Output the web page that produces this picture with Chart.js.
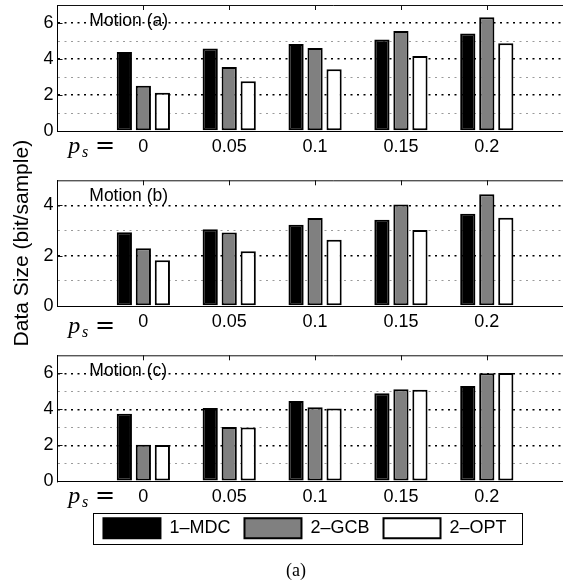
<!DOCTYPE html>
<html>
<head>
<meta charset="utf-8">
<script src="https://cdn.jsdelivr.net/npm/chart.js@4.4.1/dist/chart.umd.min.js"></script>
<style>
  html, body { margin: 0; padding: 0; background: #fff; overflow: hidden; }
  #fig { position: relative; width: 563px; height: 588px; overflow: hidden; }
  #fig canvas { position: absolute; left: 0; }
  #caption {
    position: absolute; left: 246px; top: 560px; width: 100px;
    text-align: center; font: 18px "Liberation Serif", "Times New Roman", serif; line-height: 20px; color: #000;
  }
</style>
</head>
<body>
<div id="fig">
  <canvas id="panelA" width="610" height="170" style="top:0px"></canvas>
  <canvas id="panelB" width="610" height="250" style="top:120px"></canvas>
  <canvas id="panelC" width="610" height="248" style="top:340px"></canvas>
  <div id="caption">(a)</div>
</div>
<script>
// Packet-loss probabilities on the horizontal axis
const psLabels = ['0', '0.05', '0.1', '0.15', '0.2'];
// Coding schemes
const seriesNames = ['1\u2013MDC', '2\u2013GCB', '2\u2013OPT'];

// Data size (bit/sample), Motion (a)
const motionA_MDC = [4.39, 4.59, 4.83, 5.09, 5.42];
const motionA_GCB = [2.52, 3.56, 4.61, 5.56, 6.32];
const motionA_OPT = [2.13, 2.76, 3.43, 4.17, 4.87];
// Data size (bit/sample), Motion (b)
const motionB_MDC = [2.93, 3.05, 3.23, 3.43, 3.67];
const motionB_GCB = [2.30, 2.92, 3.50, 4.04, 4.45];
const motionB_OPT = [1.82, 2.18, 2.64, 3.02, 3.51];
// Data size (bit/sample), Motion (c)
const motionC_MDC = [3.75, 4.07, 4.46, 4.89, 5.30];
const motionC_GCB = [2.03, 3.01, 4.11, 5.11, 6.00];
const motionC_OPT = [2.01, 2.99, 4.05, 5.09, 6.02];

const SANS = '"Liberation Sans", Arial, Helvetica, sans-serif';
Chart.defaults.font.family = SANS;
Chart.defaults.color = '#000';

const fills = ['#000000', '#808080', '#ffffff'];
// The axes run on past the right edge of the figure
const X_MAX = 6.435;

// Fixed axis sizes so the three panels line up exactly
const fixWidth = w => s => { s.width = w; s.paddingTop = 0; s.paddingBottom = 0; };
const fixHeight = h => s => { s.height = h; s.paddingLeft = 0; s.paddingRight = 0; };

// Solid top edge of each panel with inward ticks, plus inward ticks on the left edge
const frameTicks = {
  id: 'frameTicks',
  beforeDatasetsDraw(chart) {
    const { ctx, chartArea: a, scales: { x, y } } = chart;
    ctx.save();
    ctx.strokeStyle = '#111';
    ctx.lineWidth = 1;
    ctx.beginPath();
    ctx.moveTo(a.left, a.top + 0.5);
    ctx.lineTo(a.right, a.top + 0.5);
    psLabels.forEach((_, i) => {
      const px = Math.round(x.getPixelForValue(i + 1)) + 0.5;
      ctx.moveTo(px, a.top);
      ctx.lineTo(px, a.top + 5);
    });
    y.ticks.forEach(t => {
      if (t.value > 0 && t.value < y.max && t.value % 2 === 0) {
        const py = Math.round(y.getPixelForValue(t.value)) + 0.5;
        ctx.moveTo(a.left, py);
        ctx.lineTo(a.left + 5, py);
      }
    });
    ctx.stroke();
    ctx.restore();
  }
};

// Panel name inside the plot and the "p_s =" row label
const panelText = {
  id: 'panelText',
  afterDatasetsDraw(chart, args, o) {
    const { ctx, chartArea: a } = chart;
    ctx.save();
    ctx.fillStyle = '#000';
    ctx.textAlign = 'left';
    ctx.textBaseline = 'middle';
    ctx.font = '17.5px ' + SANS;
    ctx.fillText(o.motion, a.left + 31.8, a.top + 16);
    const base = a.bottom + o.psDrop;
    ctx.textBaseline = 'alphabetic';
    ctx.font = 'italic 24px "Liberation Serif", "Times New Roman", serif';
    ctx.fillText('p', a.left + 10.8, base);
    ctx.font = 'italic 16px "Liberation Serif", "Times New Roman", serif';
    ctx.fillText('s', a.left + 24.5, base + 4);
    ctx.font = '24px "DejaVu Serif", serif';
    ctx.fillText('=', a.left + 37.5, base);
    ctx.restore();
  }
};

// Rectangle around the legend entries
const legendFrame = {
  id: 'legendFrame',
  afterDraw(chart) {
    const lg = chart.legend;
    if (!lg || !lg.options.display || !lg.legendHitBoxes.length) return;
    const hb = lg.legendHitBoxes;
    const first = hb[0], last = hb[hb.length - 1];
    const x1 = Math.round(first.left - 10) + 0.5;
    const x2 = Math.round(last.left + last.width + 15) + 0.5;
    const y1 = Math.round(first.top - 5) + 0.5;
    const y2 = Math.round(first.top + 26) + 0.5;
    const ctx = chart.ctx;
    ctx.save();
    ctx.strokeStyle = '#000';
    ctx.lineWidth = 1;
    ctx.strokeRect(x1, y1, x2 - x1, y2 - y1);
    ctx.restore();
  }
};

function makePanel(id, cfg) {
  const values = cfg.values;
  return new Chart(document.getElementById(id), {
    type: 'bar',
    data: {
      datasets: seriesNames.map((name, k) => ({
        label: name,
        data: values[k].map((v, i) => ({ x: i + 1, y: v })),
        backgroundColor: fills[k],
        borderColor: '#000',
        borderWidth: 2,
        borderSkipped: false,
        categoryPercentage: 0.664,
        barPercentage: 0.8
      }))
    },
    options: {
      responsive: false,
      animation: false,
      events: [],
      layout: { autoPadding: false, padding: cfg.padding },
      scales: {
        x: {
          type: 'linear',
          min: 0,
          max: X_MAX,
          offset: false,
          afterFit: fixHeight(cfg.xAxisHeight),
          grid: { display: false, drawTicks: false, offset: false },
          border: { display: true, color: '#000', width: 1 },
          ticks: {
            stepSize: 1,
            includeBounds: false,
            autoSkip: false,
            maxRotation: 0,
            minRotation: 0,
            padding: 5,
            font: { size: 18 },
            callback: v => {
              const i = Math.round(v);
              return (i >= 1 && i <= psLabels.length) ? psLabels[i - 1] : '';
            }
          }
        },
        y: {
          min: 0,
          max: cfg.yMax,
          afterFit: fixWidth(57.5),
          grid: {
            drawTicks: false,
            color: c => {
              const v = c.tick.value;
              if (v === 0 || v === cfg.yMax) return 'rgba(0,0,0,0)';
              return v % 2 === 0 ? '#000' : '#9a9a9a';
            },
            lineWidth: c => (c.tick.value % 2 === 0 ? 1.4 : 1)
          },
          border: { display: true, color: '#000', width: 1, dash: [2, 4.5] },
          ticks: {
            stepSize: 1,
            autoSkip: false,
            padding: 4,
            font: { size: 18 },
            callback: v => (v % 2 === 0 ? String(v) : '')
          },
          title: cfg.yTitle ? {
            display: true,
            text: cfg.yTitle,
            font: { size: 21 },
            padding: { top: 9.4, bottom: 0 }
          } : { display: false }
        }
      },
      plugins: {
        legend: cfg.legend ? {
          display: true,
          position: 'bottom',
          labels: {
            boxWidth: 57,
            boxHeight: 20,
            padding: 14,
            color: '#000',
            font: { size: 18 }
          }
        } : { display: false },
        tooltip: { enabled: false },
        title: { display: false },
        panelText: { motion: cfg.motion, psDrop: cfg.psDrop }
      }
    },
    plugins: cfg.legend ? [frameTicks, panelText, legendFrame] : [frameTicks, panelText]
  });
}

makePanel('panelA', {
  values: [motionA_MDC, motionA_GCB, motionA_OPT],
  yMax: 7,
  motion: 'Motion (a)',
  psDrop: 22,
  padding: { left: 0, top: 5, right: 0, bottom: 0 },
  xAxisHeight: 39
});

makePanel('panelB', {
  values: [motionB_MDC, motionB_GCB, motionB_OPT],
  yMax: 5,
  motion: 'Motion (b)',
  psDrop: 27,
  yTitle: 'Data Size (bit/sample)',
  padding: { left: 0, top: 60.3, right: 0, bottom: 25 },
  xAxisHeight: 39
});

makePanel('panelC', {
  values: [motionC_MDC, motionC_GCB, motionC_OPT],
  yMax: 7,
  motion: 'Motion (c)',
  psDrop: 21.5,
  legend: true,
  padding: { left: 0, top: 15.3, right: 0, bottom: 39.7 },
  xAxisHeight: 23
});
</script>
</body>
</html>
